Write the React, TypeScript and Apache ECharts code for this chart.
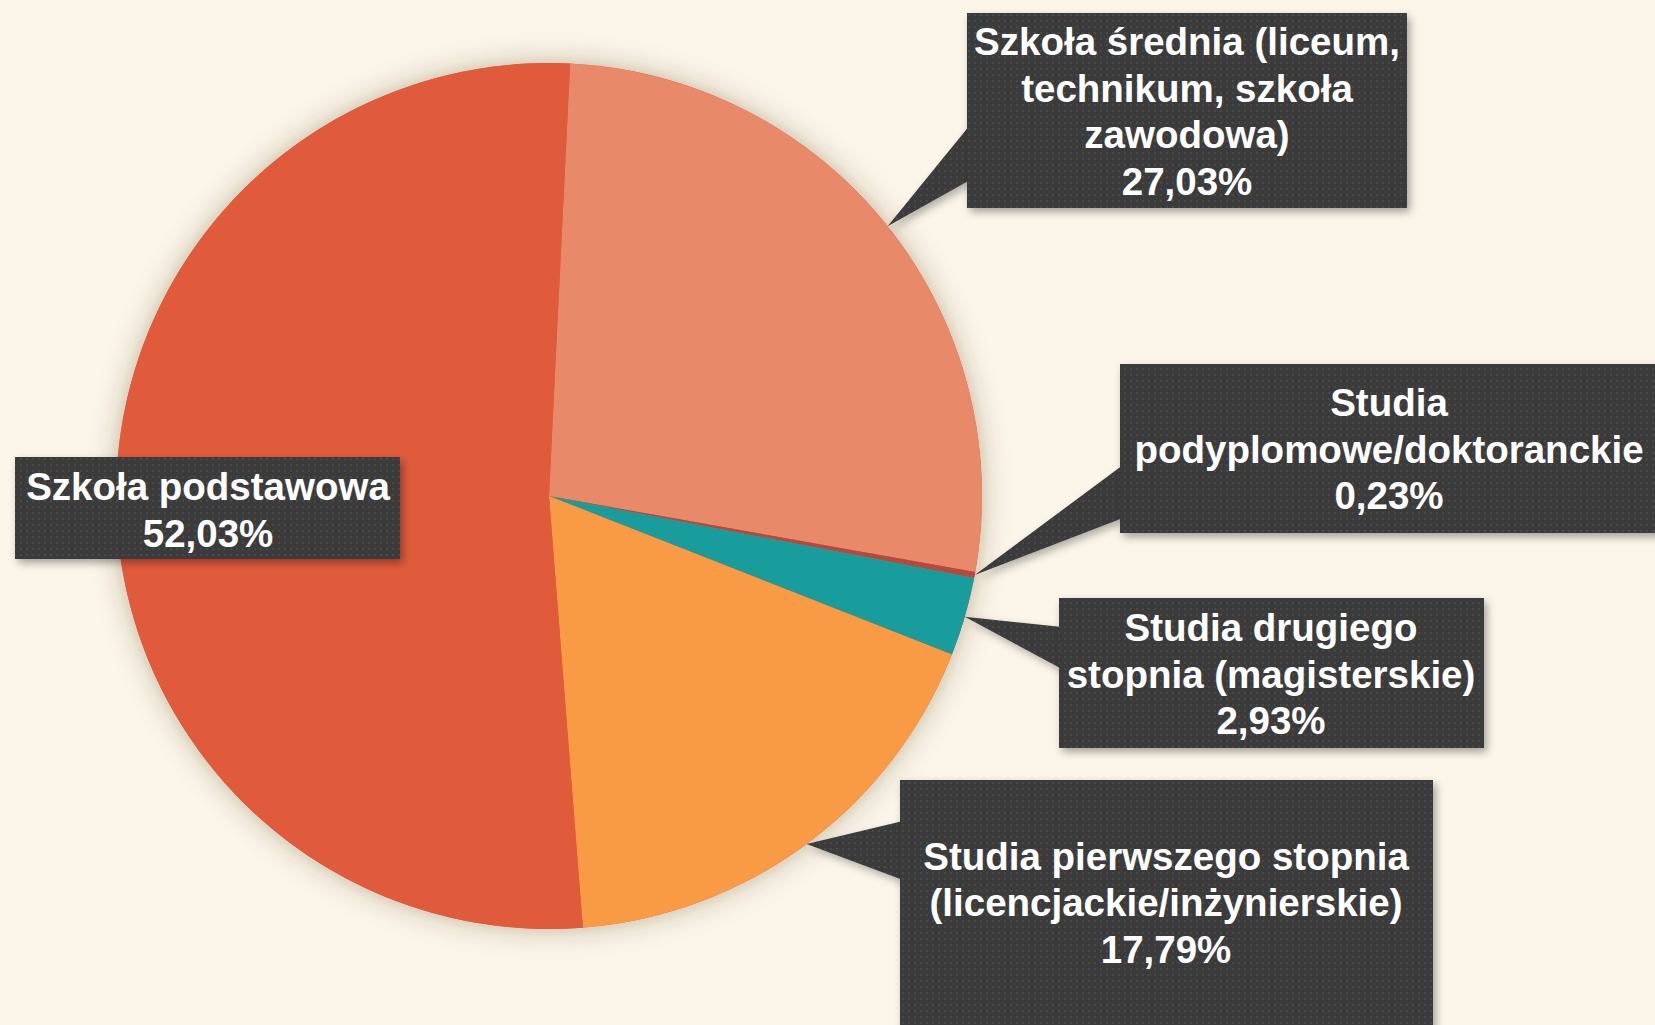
import React, { useEffect, useRef } from 'react';
import * as echarts from 'echarts';

// ---- Data ----
const categories: string[] = [
  'Szkoła średnia (liceum,\ntechnikum, szkoła\nzawodowa)',
  'Studia\npodyplomowe/doktoranckie',
  'Studia drugiego\nstopnia (magisterskie)',
  'Studia pierwszego stopnia\n(licencjackie/inżynierskie)',
  'Szkoła podstawowa',
];
const shares: number[] = [27.03, 0.23, 2.93, 17.79, 52.03];
const sliceColors: string[] = ['#E8896A', '#B44A3C', '#189D9C', '#F99B45', '#E05B3C'];

// ---- Layout ----
const PIE_CENTER = [549, 496];
const PIE_RADIUS = 433;
const START_ANGLE = 87.2;
const BG = '#FCF6EA';

const boxRects: number[][] = [
  [967, 13, 440, 195],
  [1120, 364, 545, 169],
  [1059, 598, 425, 150],
  [900, 780, 533, 260],
  [15, 457, 385, 102],
];
const textCenters: number[][] = [
  [1187, 111.5],
  [1389, 449],
  [1271, 674],
  [1166, 902.5],
  [208, 510],
];
const pointerBases: (number[] | null)[] = [
  [125, 180],
  [465, 518],
  [627, 669],
  [821, 880],
  null,
];

function fmt(v: number): string {
  return v.toFixed(2).replace('.', ',') + '%';
}

export default function App() {
  const ref = useRef<HTMLDivElement>(null);
  useEffect(() => {
    if (!ref.current) return;
    const chart = echarts.init(ref.current, null, { renderer: 'svg' });

    const cv = document.createElement('canvas');
    cv.width = 6;
    cv.height = 6;
    const ctx = cv.getContext('2d');
    if (ctx) {
      ctx.fillStyle = '#3B3B3B';
      ctx.fillRect(0, 0, 6, 6);
      ctx.fillStyle = '#4A4A4A';
      ctx.fillRect(2, 2, 2, 2);
    }
    const boxFill: any = { image: cv, repeat: 'repeat' };

    const total = shares.reduce((a, b) => a + b, 0);
    let acc = 0;
    const graphics: any[] = [];
    shares.forEach((v, i) => {
      const midDeg = 90 - START_ANGLE + ((acc + v / 2) / total) * 360;
      acc += v;
      const rad = (midDeg * Math.PI) / 180;
      const tip = [
        PIE_CENTER[0] + PIE_RADIUS * Math.sin(rad),
        PIE_CENTER[1] - PIE_RADIUS * Math.cos(rad),
      ];
      const [bx, by, bw, bh] = boxRects[i];
      const base = pointerBases[i];
      if (base) {
        graphics.push({
          type: 'polygon',
          z: 10,
          silent: true,
          shape: { points: [tip, [bx + 3, base[0]], [bx + 3, base[1]]] },
          style: {
            fill: boxFill,
            shadowBlur: 8,
            shadowOffsetX: 3,
            shadowOffsetY: 4,
            shadowColor: 'rgba(0,0,0,0.3)',
          },
        });
      }
      graphics.push({
        type: 'rect',
        z: 11,
        silent: true,
        shape: { x: bx, y: by, width: bw, height: bh },
        style: {
          fill: boxFill,
          shadowBlur: 8,
          shadowOffsetX: 3,
          shadowOffsetY: 4,
          shadowColor: 'rgba(0,0,0,0.35)',
        },
      });
      graphics.push({
        type: 'text',
        z: 12,
        silent: true,
        x: textCenters[i][0],
        y: textCenters[i][1],
        style: {
          text: categories[i] + '\n' + fmt(v),
          fill: '#FFFFFF',
          fontFamily: '"Liberation Sans", Arimo, Arial, sans-serif',
          fontWeight: 'bold',
          fontSize: 38.5,
          lineHeight: 46.5,
          align: 'center',
          verticalAlign: 'middle',
          textAlign: 'center',
          textVerticalAlign: 'middle',
        },
      });
    });

    chart.setOption({
      animation: false,
      backgroundColor: BG,
      series: [
        {
          type: 'pie',
          z: 1,
          silent: true,
          center: PIE_CENTER,
          radius: PIE_RADIUS,
          label: { show: false },
          labelLine: { show: false },
          itemStyle: {
            color: '#E05B3C',
            shadowBlur: 28,
            shadowColor: 'rgba(70,50,30,0.35)',
          },
          data: [{ value: 1, name: 'shadow' }],
        },
        {
          type: 'pie',
          z: 2,
          silent: true,
          center: PIE_CENTER,
          radius: PIE_RADIUS,
          startAngle: START_ANGLE,
          clockwise: true,
          label: { show: false },
          labelLine: { show: false },
          itemStyle: { borderWidth: 0 },
          data: shares.map((v, i) => ({
            value: v,
            name: categories[i],
            itemStyle: { color: sliceColors[i] },
          })),
        },
      ],
      graphic: graphics,
    });

    return () => chart.dispose();
  }, []);

  return (
    <div
      ref={ref}
      style={{ position: 'absolute', left: 0, top: 0, width: 1655, height: 1025 }}
    />
  );
}
